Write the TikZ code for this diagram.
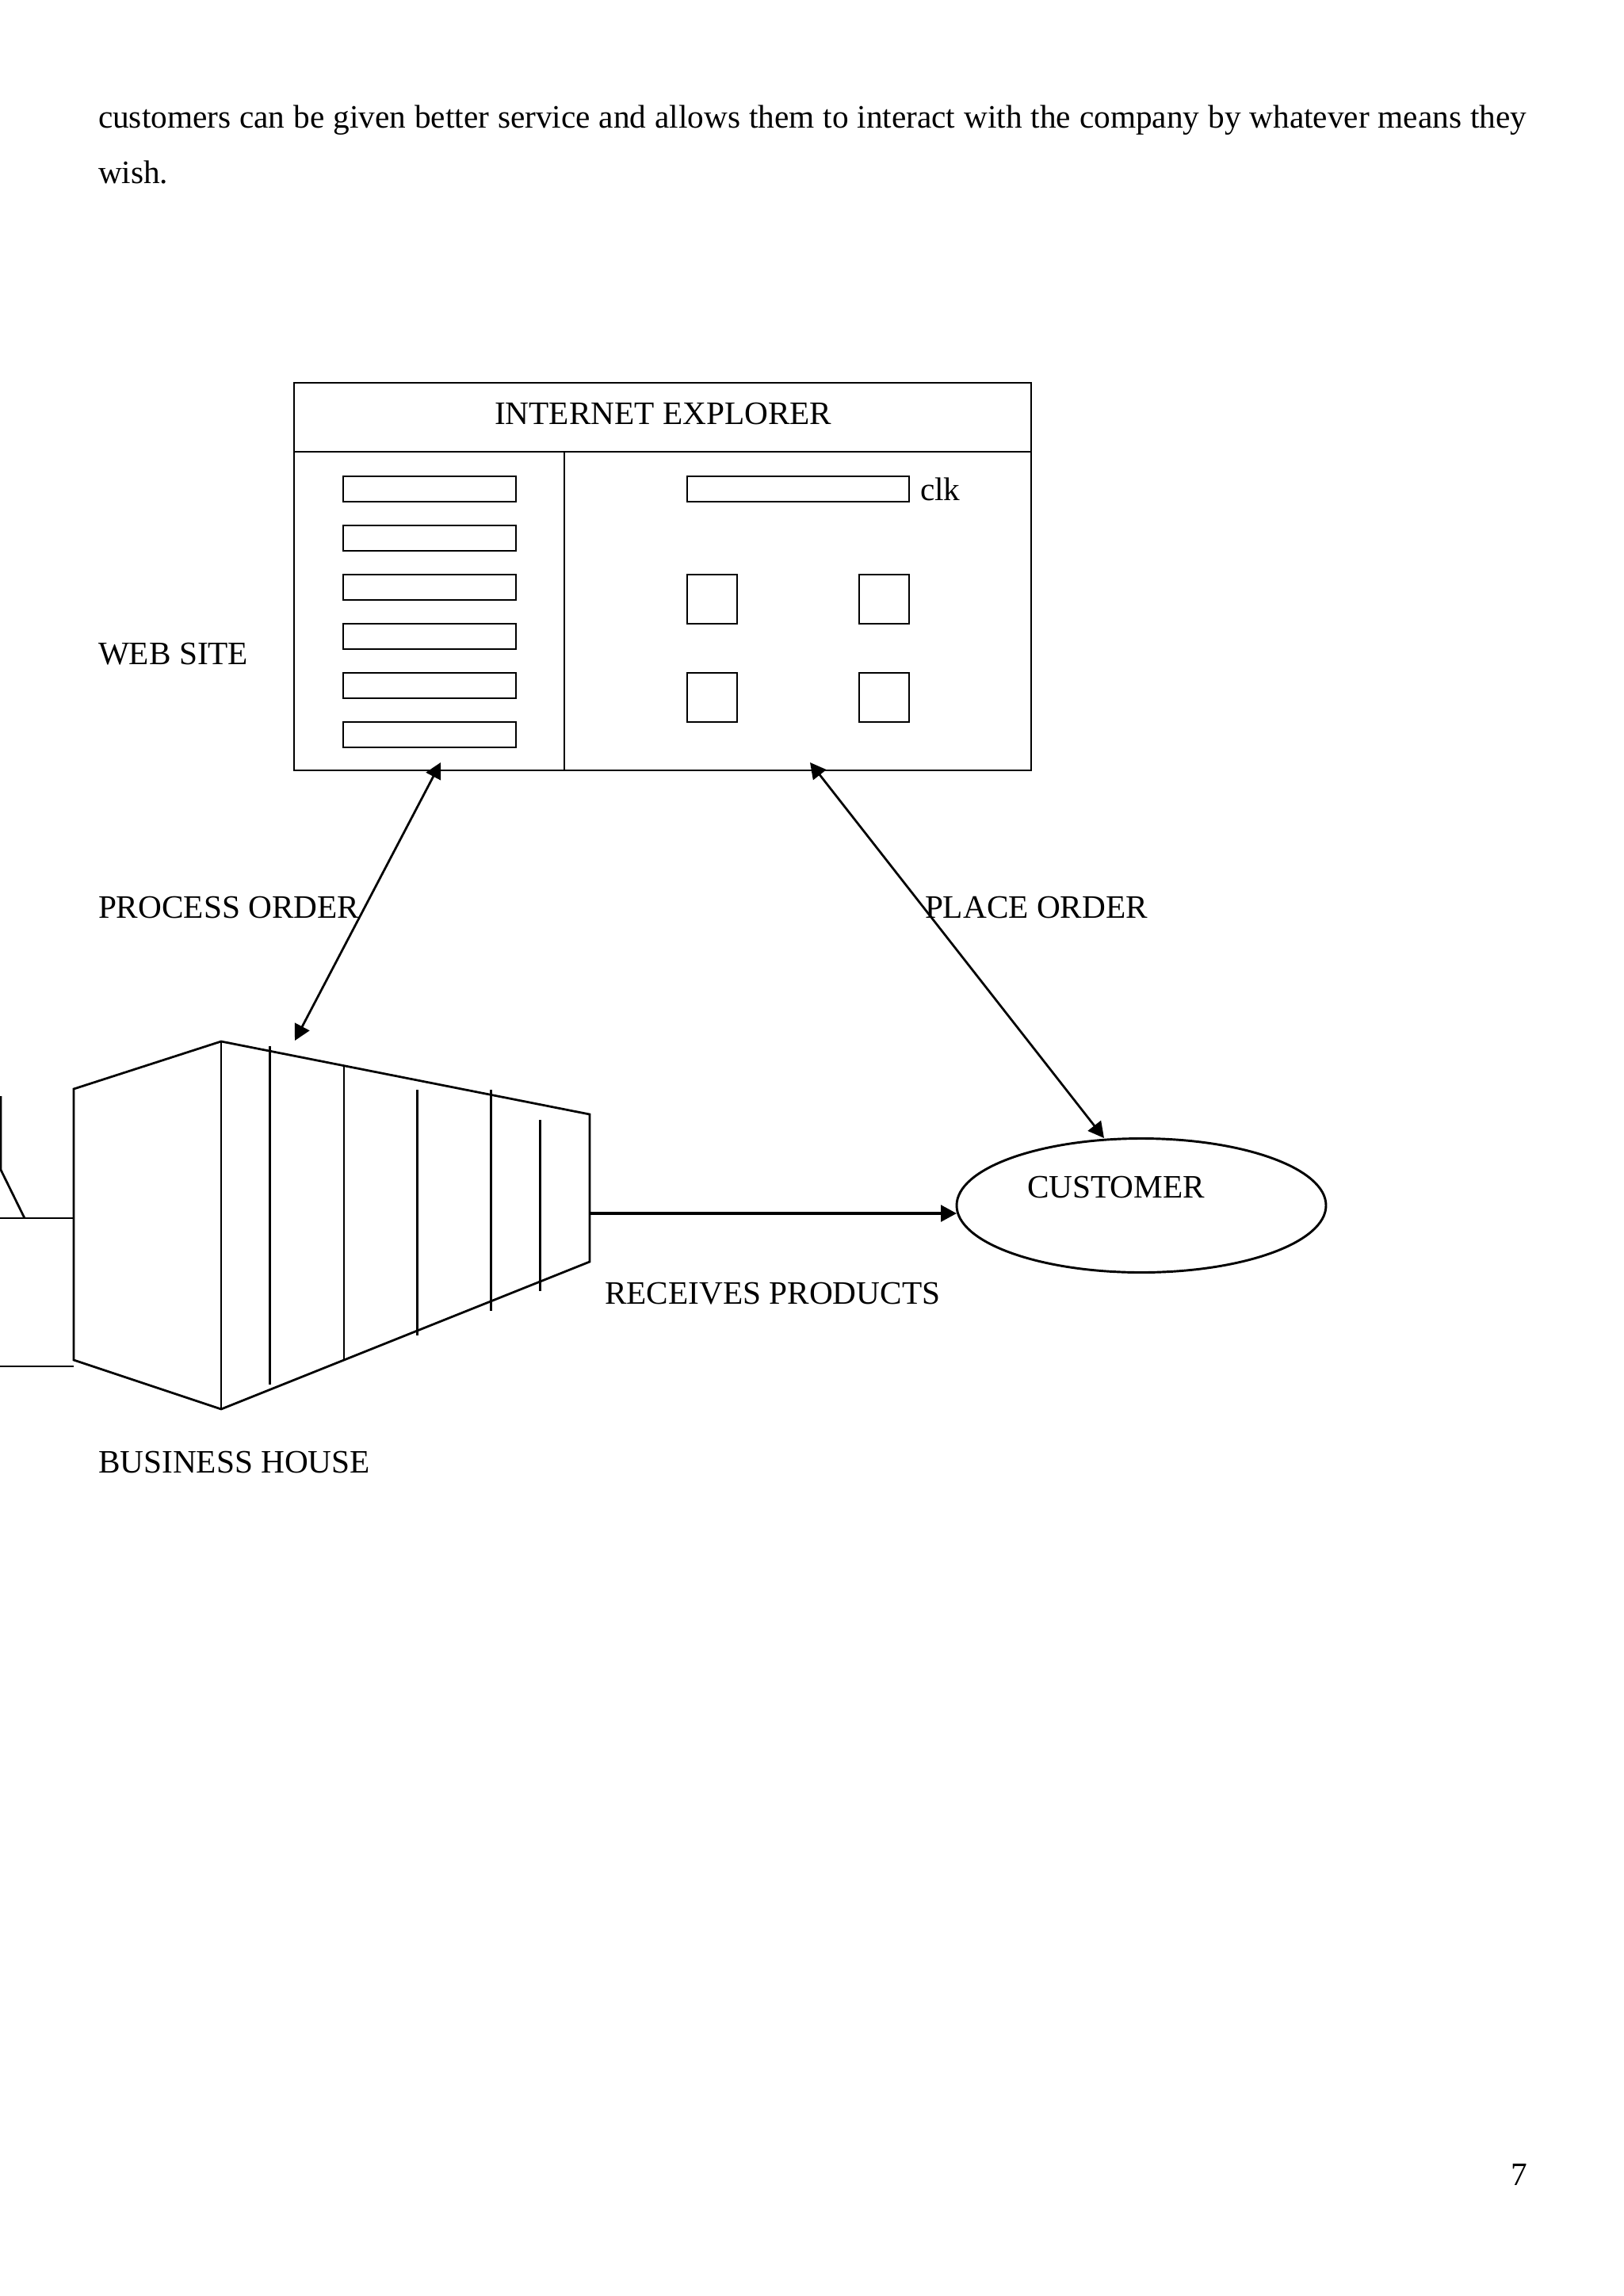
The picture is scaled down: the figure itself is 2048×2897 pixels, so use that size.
\documentclass[tikz,border=0pt]{standalone}
\usepackage{fontspec}
\setmainfont{Liberation Serif}
\usetikzlibrary{arrows.meta,shapes.geometric}
\newcommand{\rectnode}[5]{\node[boxshape, minimum width={(#4-#2)*0.29066pt}, minimum height={(#5-#3)*0.29066pt}, anchor=south west] (#1) at (#2,#5) {};}
\tikzset{
  boxshape/.style={draw=black, line width=0.85pt, inner sep=0pt, outer sep=0pt, fill=none},
  txt/.style={anchor=base west, inner sep=0pt, outer sep=0pt, font=\fontsize{12}{14}\selectfont, text=black},
  plainline/.style={draw=black, line width=0.8pt, line cap=butt, line join=miter},
  biarrow/.style={plainline, {Triangle[length=5.8pt,width=6pt]}-{Triangle[length=5.8pt,width=6pt]}},
  onearrow/.style={plainline, line width=1pt, -{Triangle[length=5.8pt,width=6pt]}}
}
\begin{document}
\begin{tikzpicture}[x=0.29066pt, y=-0.29066pt]
\useasboundingbox (0,0) rectangle (2048,2897);
\fill[white] (0,0) rectangle (2048,2897);

% paragraph
\node[txt] (para1) at (124,161) {\makebox[523.8pt][s]{customers can be given better service and allows them to interact with the company by whatever means they}};
\node[txt] (para2) at (124,231) {wish.};

% browser window
\rectnode{browser}{371}{483}{1301}{972}
\coordinate (dl) at (371,570);
\coordinate (dr) at (1301,570);
\draw[plainline] (dl) -- (dr);
\coordinate (vt) at (712,570);
\coordinate (vb) at (712,972);
\draw[plainline] (vt) -- (vb);
\node[txt] (title) at (624,535) {INTERNET EXPLORER};

% left list
\rectnode{l1}{433}{601}{651}{633}
\rectnode{l2}{433}{663}{651}{695}
\rectnode{l3}{433}{725}{651}{757}
\rectnode{l4}{433}{787}{651}{819}
\rectnode{l5}{433}{849}{651}{881}
\rectnode{l6}{433}{911}{651}{943}

% right pane
\rectnode{searchbar}{867}{601}{1147}{633}
\node[txt] (clk) at (1161,631) {clk};
\rectnode{s1}{867}{725}{930}{787}
\rectnode{s2}{1084}{725}{1147}{787}
\rectnode{s3}{867}{849}{930}{911}
\rectnode{s4}{1084}{849}{1147}{911}

% side labels
\node[txt] (web) at (124,838) {WEB SITE};
\node[txt] (proc) at (124,1158) {PROCESS ORDER};
\node[txt] (place) at (1167,1158) {PLACE ORDER};
\node[txt] (recv) at (763,1645) {RECEIVES PRODUCTS};
\node[txt] (biz) at (124,1858) {BUSINESS HOUSE};

% business house
\coordinate (hA) at (93,1374);
\coordinate (hB) at (279,1314);
\coordinate (hC) at (744,1406);
\coordinate (hD) at (744,1592);
\coordinate (hE) at (279,1778);
\coordinate (hF) at (93,1716);
\draw[plainline] (hA) -- (hB) -- (hC) -- (hD) -- (hE) -- (hF) -- cycle;
\draw[plainline] (hB) -- (hE);
\draw[plainline] (340.5,1320) -- (340.5,1747);
\draw[plainline] (434,1345) -- (434,1716);
\draw[plainline] (526.5,1375) -- (526.5,1685);
\draw[plainline] (619.5,1375) -- (619.5,1654);
\draw[plainline] (681.5,1413) -- (681.5,1629);

% stub at the left edge
\draw[plainline] (0,1537) -- (93,1537);
\draw[plainline] (0,1724) -- (93,1724);
\draw[plainline] (1,1383) -- (1,1476) -- (31,1537);

% customer
\node[draw=black, line width=0.85pt, ellipse, minimum width={466*0.29066pt}, minimum height={169*0.29066pt}, inner sep=0pt, outer sep=0pt] (cust) at (1440,1521) {};
\node[txt] (custtext) at (1296,1511) {CUSTOMER};

% connectors
\coordinate (pa) at (556,962);
\coordinate (pb) at (372,1313);
\draw[biarrow] (pa) -- (pb);
\coordinate (qa) at (1022,962);
\coordinate (qb) at (1393,1436);
\draw[biarrow] (qa) -- (qb);
\coordinate (rs) at (744,1531);
\draw[onearrow] (rs) -- (cust.west |- rs);

% page number
\node[txt] (pg) at (1906,2757) {7};
\end{tikzpicture}
\end{document}
